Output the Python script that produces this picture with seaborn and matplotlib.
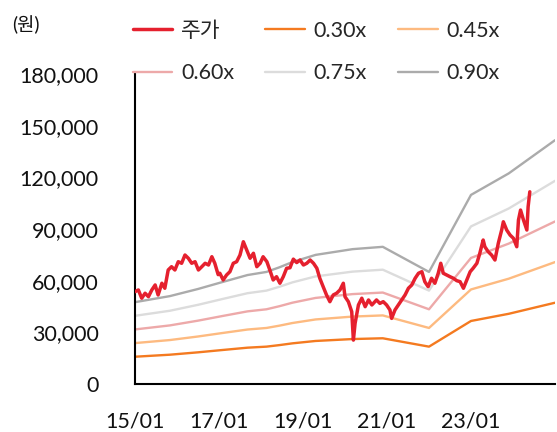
import numpy as np
import pandas as pd
import seaborn as sns
import matplotlib.pyplot as plt
from matplotlib.ticker import FuncFormatter

# Inputs ---------------------------------------
# share price (won, thousands), x in decimal years
price_year = [2015.00, 2015.08, 2015.16, 2015.24, 2015.32, 2015.40, 2015.48, 2015.55, 2015.64, 2015.71,
              2015.79, 2015.87, 2015.95, 2016.03, 2016.11, 2016.19, 2016.27, 2016.35, 2016.43, 2016.51,
              2016.59, 2016.67, 2016.75, 2016.83, 2016.90, 2016.98, 2017.02, 2017.10, 2017.18, 2017.26,
              2017.34, 2017.42, 2017.50, 2017.58, 2017.66, 2017.74, 2017.82, 2017.90, 2017.98, 2018.05,
              2018.14, 2018.21, 2018.29, 2018.37, 2018.45, 2018.53, 2018.61, 2018.69, 2018.77, 2018.85,
              2018.93, 2019.01, 2019.09, 2019.17, 2019.25, 2019.33, 2019.40, 2019.48, 2019.56, 2019.64,
              2019.72, 2019.80, 2019.88, 2019.96, 2020.00, 2020.08, 2020.16, 2020.20, 2020.24, 2020.32,
              2020.40, 2020.48, 2020.56, 2020.64, 2020.75, 2020.83, 2020.91, 2020.99, 2021.07, 2021.11,
              2021.19, 2021.27, 2021.35, 2021.43, 2021.51, 2021.59, 2021.67, 2021.75, 2021.83, 2021.90,
              2021.98, 2022.06, 2022.14, 2022.22, 2022.28, 2022.34, 2022.42, 2022.50, 2022.58, 2022.66,
              2022.74, 2022.82, 2022.90, 2022.98, 2023.05, 2023.14, 2023.21, 2023.29, 2023.33, 2023.41,
              2023.49, 2023.57, 2023.65, 2023.73, 2023.77, 2023.85, 2023.93, 2024.01, 2024.09, 2024.13,
              2024.18, 2024.25, 2024.33, 2024.36, 2024.40]
price_k = [53.6, 54.6, 49.8, 52.7, 50.7, 54.6, 57.5, 51.7, 58.5, 55.6,
           66.2, 68.1, 66.2, 71.0, 70.1, 74.9, 73.0, 70.1, 71.0, 66.2,
           68.1, 70.1, 69.1, 73.9, 70.1, 63.5, 64.3, 60.4, 63.3, 65.2,
           70.1, 71.0, 74.9, 82.6, 77.8, 73.0, 75.9, 68.1, 70.1, 73.9,
           71.0, 66.2, 60.4, 62.3, 58.5, 62.3, 67.2, 67.5, 72.5, 70.5,
           72.0, 69.1, 70.1, 72.0, 70.1, 67.2, 61.4, 56.5, 51.7, 47.8,
           51.7, 52.7, 54.6, 58.5, 50.7, 47.8, 42.0, 25.5, 35.2, 45.9,
           49.8, 44.9, 48.8, 45.9, 48.8, 46.8, 47.8, 45.9, 43.0, 38.1,
           43.0, 45.9, 48.8, 51.7, 55.6, 57.5, 61.4, 64.3, 65.2, 59.4,
           56.5, 61.4, 58.5, 64.3, 70.1, 64.3, 63.3, 62.3, 61.4, 60.0,
           59.4, 55.6, 60.4, 65.2, 67.2, 70.1, 75.9, 83.6, 79.7, 76.8,
           74.9, 72.0, 81.7, 89.4, 94.2, 89.4, 86.5, 84.6, 79.7, 95.2,
           101.0, 95.2, 89.4, 102.9, 111.6]

# book value per share (won, thousands)
bps_year = [2015.00, 2015.83, 2016.50, 2017.07, 2017.68, 2018.13, 2018.44, 2018.75, 2019.30,
            2020.18, 2020.90, 2022.00, 2023.00, 2023.90, 2025.00]
bps_k = [52.8, 56.7, 61.3, 65.7, 70.3, 72.3, 75.3, 78.7, 83.3,
         87.0, 88.5, 72.3, 122.0, 135.9, 157.3]

multiples = [0.30, 0.45, 0.60, 0.75, 0.90]
band_labels = ['0.30x', '0.45x', '0.60x', '0.75x', '0.90x']
band_colors = ['#F47A20', '#FDBA80', '#EDA9A9', '#DCDCDC', '#ABABAB']
price_label = '주가'
price_color = '#E5202E'
xtick_years = [2015, 2017, 2019, 2021, 2023, 2025]
xtick_labels = ['15/01', '17/01', '19/01', '21/01', '23/01', '']
# -----------------------------------------------

price = pd.DataFrame({'year': price_year, 'price': np.array(price_k) * 1000})
bands = pd.concat([pd.DataFrame({'year': bps_year,
                                 'value': np.array(bps_k) * 1000 * m,
                                 'band': lab})
                   for m, lab in zip(multiples, band_labels)])

sns.set_style('white')
plt.rcParams['font.family'] = ['Lato', 'Noto Sans CJK KR', 'DejaVu Sans']

fig = plt.figure(figsize=(5.57, 4.32), dpi=100)
ax = fig.add_axes([135 / 557, 1 - 384 / 432, 420 / 557, 310 / 432])

sns.lineplot(data=bands, x='year', y='value', hue='band', hue_order=band_labels,
             palette=dict(zip(band_labels, band_colors)), linewidth=1.7, ax=ax)
sns.lineplot(data=price, x='year', y='price', color=price_color, linewidth=2.5,
             label=price_label, ax=ax, zorder=5)

ax.set_xlim(2015, 2025)
ax.set_ylim(0, 180000)
ax.set_yticks(np.arange(0, 180001, 30000))
ax.yaxis.set_major_formatter(FuncFormatter(lambda v, p: f'{int(v):,}'))
ax.set_xticks(xtick_years)
ax.set_xticklabels(xtick_labels)
ax.set_xlabel('')
ax.set_ylabel('')
for s in ['top', 'right']:
    ax.spines[s].set_visible(False)
for s in ['left', 'bottom']:
    ax.spines[s].set_color('black')
    ax.spines[s].set_linewidth(1.5)
ax.tick_params(axis='both', which='major', direction='out', length=7, width=1.5,
               color='black', labelsize=15.5, labelcolor='#111111')
ax.tick_params(axis='y', pad=19)
ax.tick_params(axis='x', pad=13)

# legend: row-major order in 3 columns
h, l = ax.get_legend_handles_labels()
hd = dict(zip(l, h))
order = [price_label, '0.60x', '0.30x', '0.75x', '0.45x', '0.90x']
ax.legend([hd[k] for k in order], order, ncol=3, frameon=False, fontsize=15.5,
          loc='upper left', bbox_to_anchor=(124 / 557, 1 - 12 / 432),
          bbox_transform=fig.transFigure, handlelength=1.85, handletextpad=0.4,
          columnspacing=1.45, labelspacing=1.05, borderaxespad=0)

fig.text(12 / 557, 1 - 25 / 432, '(원)', fontsize=13.5, va='center', ha='left', color='#111111')

plt.savefig('out.png', dpi=100)
